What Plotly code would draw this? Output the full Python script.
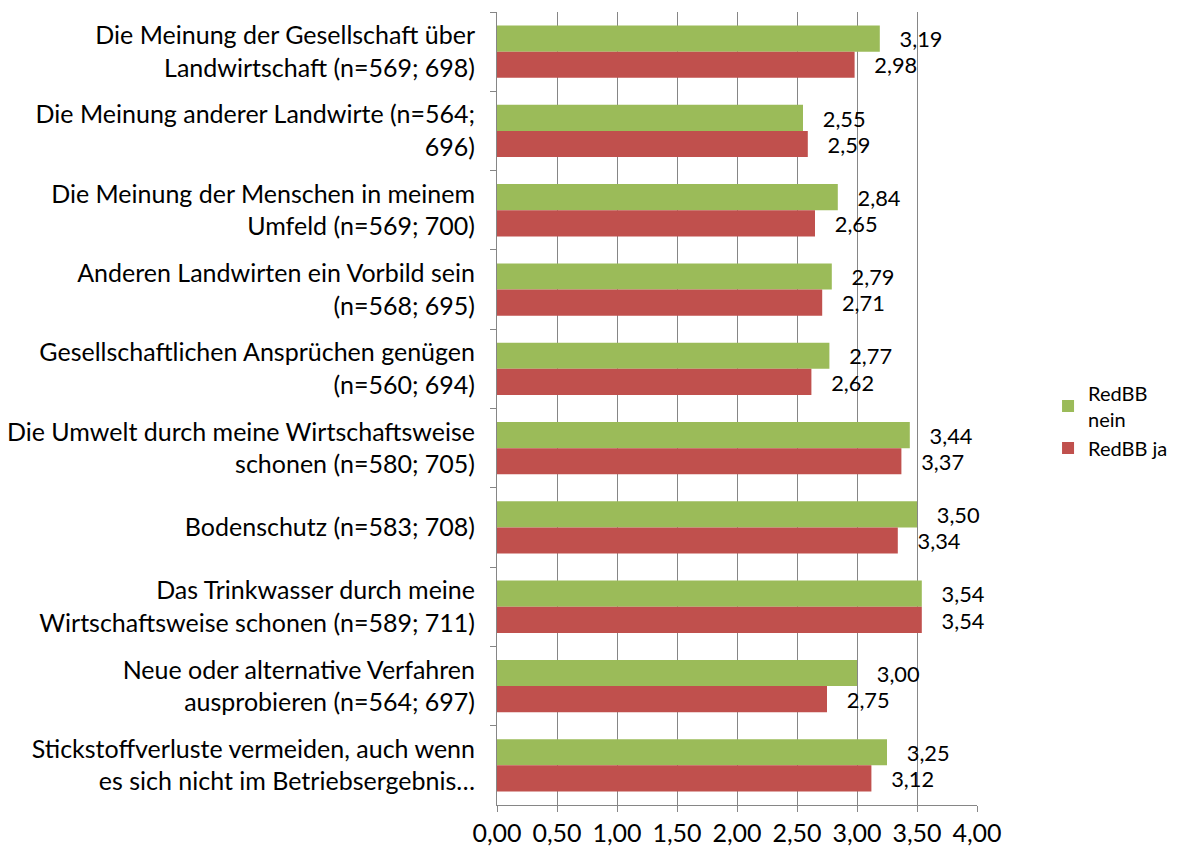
import plotly.graph_objects as go

categories = [
    "Die Meinung der Gesellschaft über<br>Landwirtschaft (n=569; 698)",
    "Die Meinung anderer Landwirte (n=564;<br>696)",
    "Die Meinung der Menschen in meinem<br>Umfeld (n=569; 700)",
    "Anderen Landwirten ein Vorbild sein<br>(n=568; 695)",
    "Gesellschaftlichen Ansprüchen genügen<br>(n=560; 694)",
    "Die Umwelt durch meine Wirtschaftsweise<br>schonen (n=580; 705)",
    "Bodenschutz (n=583; 708)",
    "Das Trinkwasser durch meine<br>Wirtschaftsweise schonen (n=589; 711)",
    "Neue oder alternative Verfahren<br>ausprobieren (n=564; 697)",
    "Stickstoffverluste vermeiden, auch wenn<br>es sich nicht im Betriebsergebnis…",
]
redbb_nein = [3.19, 2.55, 2.84, 2.79, 2.77, 3.44, 3.50, 3.54, 3.00, 3.25]
redbb_ja = [2.98, 2.59, 2.65, 2.71, 2.62, 3.37, 3.34, 3.54, 2.75, 3.12]
x_ticks = [0, 0.5, 1, 1.5, 2, 2.5, 3, 3.5, 4]

FONT = "Lato"
FS = 25
fig = go.Figure()
fig.add_trace(go.Bar(
    y=categories, x=redbb_nein, orientation="h", name="RedBB<br>nein",
    marker=dict(color="#9BBB59", line=dict(width=0)),
    texttemplate="   %{x:.2f}", textposition="outside", cliponaxis=False,
    textfont=dict(family=FONT, size=FS, color="black"),
))
fig.add_trace(go.Bar(
    y=categories, x=redbb_ja, orientation="h", name="RedBB ja",
    marker=dict(color="#C0504D", line=dict(width=0)),
    texttemplate="   %{x:.2f}", textposition="outside", cliponaxis=False,
    textfont=dict(family=FONT, size=FS, color="black"),
))
fig.update_layout(
    width=1171, height=845,
    margin=dict(l=489, r=202, t=4, b=48, autoexpand=False),
    paper_bgcolor="white", plot_bgcolor="white",
    separators=",.",
    barmode="group", bargap=0.34, bargroupgap=0,
    font=dict(family=FONT, size=FS, color="black"),
    legend=dict(x=1.148, y=0.485, xanchor="left", yanchor="middle",
                font=dict(family=FONT, size=20), traceorder="normal",
                itemwidth=30),
    xaxis=dict(range=[0, 4], tickvals=x_ticks, tickformat=".2f",
               showgrid=True, gridcolor="#868686", gridwidth=1,
               showline=True, linecolor="#868686", ticks="outside",
               tickcolor="#868686", ticklen=6, zeroline=False,
               tickfont=dict(size=FS), automargin=False),
    yaxis=dict(type="category", autorange="reversed", tickson="boundaries",
               ticks="outside", ticklen=6, tickcolor="#868686",
               showline=True, linecolor="#868686", showgrid=False,
               tickfont=dict(size=FS), ticklabelstandoff=16,
               automargin=False),
)
fig.write_html("out.html")
